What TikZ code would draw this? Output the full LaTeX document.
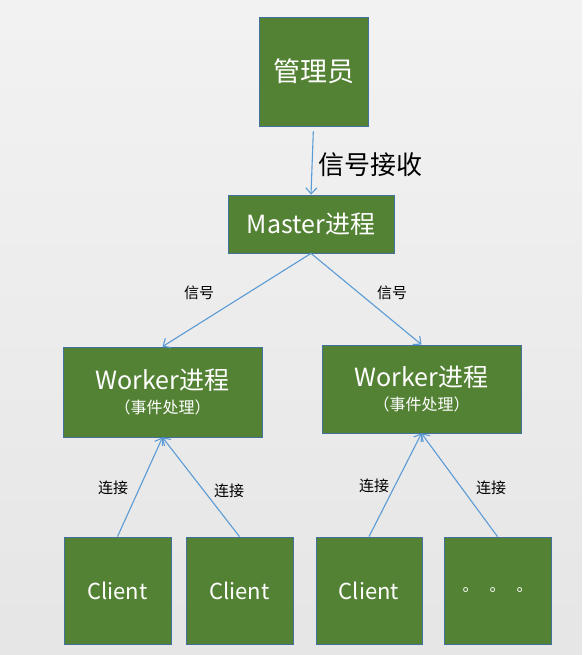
\documentclass[tikz,border=0pt]{standalone}
\usepackage{fontspec}
\setmainfont{Noto Sans CJK SC}
\usetikzlibrary{arrows.meta}
\definecolor{boxgreen}{HTML}{548235}
\definecolor{boxline}{HTML}{41719C}
\definecolor{linkblue}{HTML}{5B9BD5}
\begin{document}
\begin{tikzpicture}[x=1pt,y=-1pt,
  box/.style={draw=boxline,fill=boxgreen,line width=0.8pt,text=white,inner sep=0pt,align=center,font=\fontsize{25}{29}\selectfont},
  link/.style={draw=linkblue,line width=1.1pt,-{Straight Barb[length=6pt,width=11pt]}},
  lbl/.style={font=\fontsize{15}{18}\selectfont}]
  \fill[top color=black!5,bottom color=black!10] (0,0) rectangle (582,655);
  \useasboundingbox (0,0) rectangle (582,655);
  \node[box,minimum width=109pt,minimum height=109pt,font=\fontsize{27}{30}\selectfont] (adm) at (313.5,71.5){管理员};
  \node[box,minimum width=166pt,minimum height=58pt] (mst) at (311,224){Master进程};
  \node[box,minimum width=199pt,minimum height=90pt] (w1) at (162.5,392){Worker进程\\[-5pt]{\fontsize{16}{18}\selectfont （事件处理）}};
  \node[box,minimum width=199pt,minimum height=88pt] (w2) at (421.5,389){Worker进程\\[-5pt]{\fontsize{16}{18}\selectfont （事件处理）}};
  \node[box,minimum width=107pt,minimum height=107pt,font=\fontsize{22}{26}\selectfont] (c1) at (117.5,590.5){Client};
  \node[box,minimum width=107pt,minimum height=107pt,font=\fontsize{22}{26}\selectfont] (c2) at (239.5,590.5){Client};
  \node[box,minimum width=106pt,minimum height=107pt,font=\fontsize{22}{26}\selectfont] (c3) at (369,590.5){Client};
  \node[box,minimum width=107pt,minimum height=107pt,font=\fontsize{16}{18}\selectfont] (c4) at (497.5,590.5){。\hspace{11pt}。\hspace{11pt}。};
  % Verbindungen
  \draw[link,shorten <=5pt] (adm.south) -- (mst.north);
  \draw[link] (mst.south) -- (w1.north);
  \draw[link] (mst.south) -- (w2.north);
  \draw[link] (c1.north) -- (w1.south);
  \draw[link] (c2.north) -- (w1.south);
  \draw[link] (c3.north) -- (w2.south);
  \draw[link] (c4.north) -- (w2.south);
  % Beschriftungen
  \node[font=\fontsize{26}{30}\selectfont] (sig) at (370,165){信号接收};
  \node[lbl] (s1) at (199,293){信号};
  \node[lbl] (s2) at (392,293){信号};
  \node[lbl] (l1) at (113,488){连接};
  \node[lbl] (l2) at (229,491){连接};
  \node[lbl] (l3) at (374,486){连接};
  \node[lbl] (l4) at (491,488){连接};
\end{tikzpicture}
\end{document}
